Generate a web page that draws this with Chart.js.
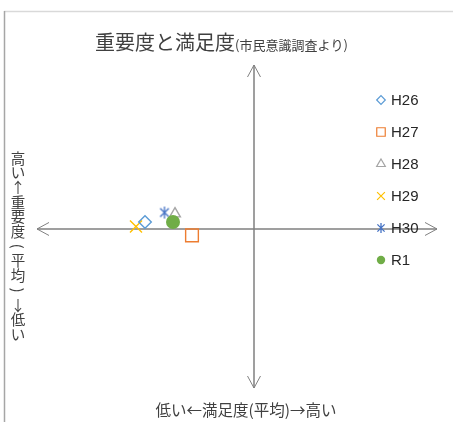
<!DOCTYPE html>
<html>
<head>
<meta charset="utf-8">
<script src="https://cdn.jsdelivr.net/npm/chart.js@4"></script>
<style>
  html, body { margin: 0; padding: 0; background: #ffffff; }
  canvas { display: block; }
</style>
</head>
<body>
<canvas id="c" width="453" height="422"></canvas>
<script>
// Survey years
const years = ['H26', 'H27', 'H28', 'H29', 'H30', 'R1'];
// Satisfaction (x) and importance (y), expressed as deviation from the overall average
const satisfaction = [-0.545, -0.31, -0.395, -0.59, -0.4475, -0.405];
const importance   = [0.044, -0.040, 0.095, 0.016, 0.103, 0.044];
// Marker styling per year
const pointStyles = ['rectRot', 'rect', 'triangle', 'crossRot', 'asterisk', 'circle'];
const colors = ['#5B9BD5', '#ED7D31', '#A5A5A5', '#FFC000', '#4472C4', '#70AD47'];
const radii = [6.3, 9, 6.2, 8.5, 6, 7];
const legendRadii = [4.3, 6, 5, 5.5, 5, 4.2];
// Axis extents
const xRange = [-1.085, 0.915];
const yRange = [-0.994, 1.025];

const title = '重要度と満足度';
const subtitle = '(市民意識調査より)';
const yLabel = ['高', 'い', '↑', '重', '要', '度', '(', '平', '均', ')', '↓', '低', 'い'];
const xLabel = '低い←満足度(平均)→高い';

const JP = '"Noto Sans CJK JP", "Noto Sans", sans-serif';

// Six-armed asterisk marker: an X with a vertical bar through it
function asteriskCanvas(r, color) {
  const s = Math.ceil(r * 2 + 4);
  const cv = document.createElement('canvas');
  cv.width = s; cv.height = s;
  const c = cv.getContext('2d');
  const m = s / 2;
  const d = r * 0.72;
  c.strokeStyle = color;
  c.lineWidth = 1.3;
  c.beginPath();
  c.moveTo(m - d, m - d); c.lineTo(m + d, m + d);
  c.moveTo(m + d, m - d); c.lineTo(m - d, m + d);
  c.moveTo(m, m - r); c.lineTo(m, m + r);
  c.stroke();
  return cv;
}

function styleFor(i, r) {
  return pointStyles[i] === 'asterisk' ? asteriskCanvas(r, colors[i]) : pointStyles[i];
}

const datasets = years.map((y, i) => ({
  label: y,
  data: [{ x: satisfaction[i], y: importance[i] }],
  pointStyle: styleFor(i, radii[i]),
  pointRadius: radii[i],
  pointHoverRadius: radii[i],
  borderColor: colors[i],
  backgroundColor: pointStyles[i] === 'circle' ? colors[i] : 'rgba(0,0,0,0)',
  pointBorderWidth: pointStyles[i] === 'circle' ? 0 : 1.4,
  borderWidth: pointStyles[i] === 'circle' ? 0 : 1.4,
  order: pointStyles[i] === 'circle' ? 0 : i + 1,
  clip: false
}));

function arrowHead(ctx, x, y, dx, dy) {
  const len = 12, half = 6.5;
  const px = -dy, py = dx;
  ctx.beginPath();
  ctx.moveTo(x - dx * len + px * half, y - dy * len + py * half);
  ctx.lineTo(x, y);
  ctx.lineTo(x - dx * len - px * half, y - dy * len - py * half);
  ctx.stroke();
}

const decorations = {
  id: 'decorations',
  beforeDatasetsDraw(chart) {
    const { ctx, chartArea, scales } = chart;
    const x0 = scales.x.getPixelForValue(0);
    const y0 = scales.y.getPixelForValue(0);
    ctx.save();
    // frame edges
    ctx.strokeStyle = '#d9d9d9';
    ctx.lineWidth = 1.5;
    ctx.beginPath();
    ctx.moveTo(4, 11.5); ctx.lineTo(chart.width, 11.5);
    ctx.stroke();
    ctx.strokeStyle = '#a6a6a6';
    ctx.beginPath();
    ctx.moveTo(4.5, 11); ctx.lineTo(4.5, chart.height);
    ctx.stroke();

    // quadrant axes with arrows on both ends
    ctx.strokeStyle = '#808080';
    ctx.lineWidth = 1.5;
    ctx.beginPath();
    ctx.moveTo(chartArea.left, y0); ctx.lineTo(chartArea.right, y0);
    ctx.moveTo(x0, chartArea.top); ctx.lineTo(x0, chartArea.bottom);
    ctx.stroke();
    ctx.lineWidth = 1;
    arrowHead(ctx, chartArea.right, y0, 1, 0);
    arrowHead(ctx, chartArea.left, y0, -1, 0);
    arrowHead(ctx, x0, chartArea.top, 0, -1);
    arrowHead(ctx, x0, chartArea.bottom, 0, 1);

    // title
    ctx.fillStyle = '#404040';
    ctx.textBaseline = 'alphabetic';
    ctx.textAlign = 'left';
    ctx.font = '20px ' + JP;
    const tw = ctx.measureText(title).width;
    const tx = 95;
    ctx.fillText(title, tx, 50);
    ctx.font = '13px ' + JP;
    ctx.fillText(subtitle, tx + tw, 50);

    // vertical axis label, stacked characters
    ctx.font = '14.5px ' + JP;
    ctx.textAlign = 'center';
    ctx.textBaseline = 'middle';
    yLabel.forEach((ch, i) => {
      const cy = 158 + i * 14.7;
      if (ch === '(' || ch === ')') {
        ctx.save();
        ctx.translate(18, cy);
        ctx.rotate(Math.PI / 2);
        ctx.fillText(ch, 0, 0);
        ctx.restore();
      } else {
        ctx.fillText(ch, 18, cy);
      }
    });

    // horizontal axis label
    ctx.font = '15.5px ' + JP;
    ctx.fillText(xLabel, 246, 410);
    ctx.restore();
  },
  afterDatasetsDraw(chart) {
    // legend on the right, drawn over the plot
    const { ctx } = chart;
    ctx.save();
    chart.data.datasets.forEach((ds, i) => {
      const cy = 100 + i * 32;
      ctx.strokeStyle = ds.borderColor;
      ctx.fillStyle = ds.backgroundColor;
      ctx.lineWidth = pointStyles[i] === 'circle' ? 0 : 1.2;
      Chart.helpers.drawPoint(ctx, {
        pointStyle: styleFor(i, legendRadii[i]),
        radius: legendRadii[i],
        rotation: 0,
        borderWidth: pointStyles[i] === 'circle' ? 0 : 1.2
      }, 381, cy);
      ctx.fillStyle = '#262626';
      ctx.font = '15px "Liberation Sans", Arial, sans-serif';
      ctx.textAlign = 'left';
      ctx.textBaseline = 'middle';
      ctx.fillText(ds.label, 391, cy + 1);
    });
    ctx.restore();
  }
};

new Chart(document.getElementById('c'), {
  type: 'scatter',
  data: { datasets },
  options: {
    responsive: false,
    animation: false,
    layout: { padding: { left: 37, right: 16, top: 65, bottom: 34 } },
    scales: {
      x: { display: false, min: xRange[0], max: xRange[1] },
      y: { display: false, min: yRange[0], max: yRange[1] }
    },
    plugins: {
      legend: { display: false },
      tooltip: { enabled: false },
      title: { display: false }
    }
  },
  plugins: [decorations]
});
</script>
</body>
</html>
